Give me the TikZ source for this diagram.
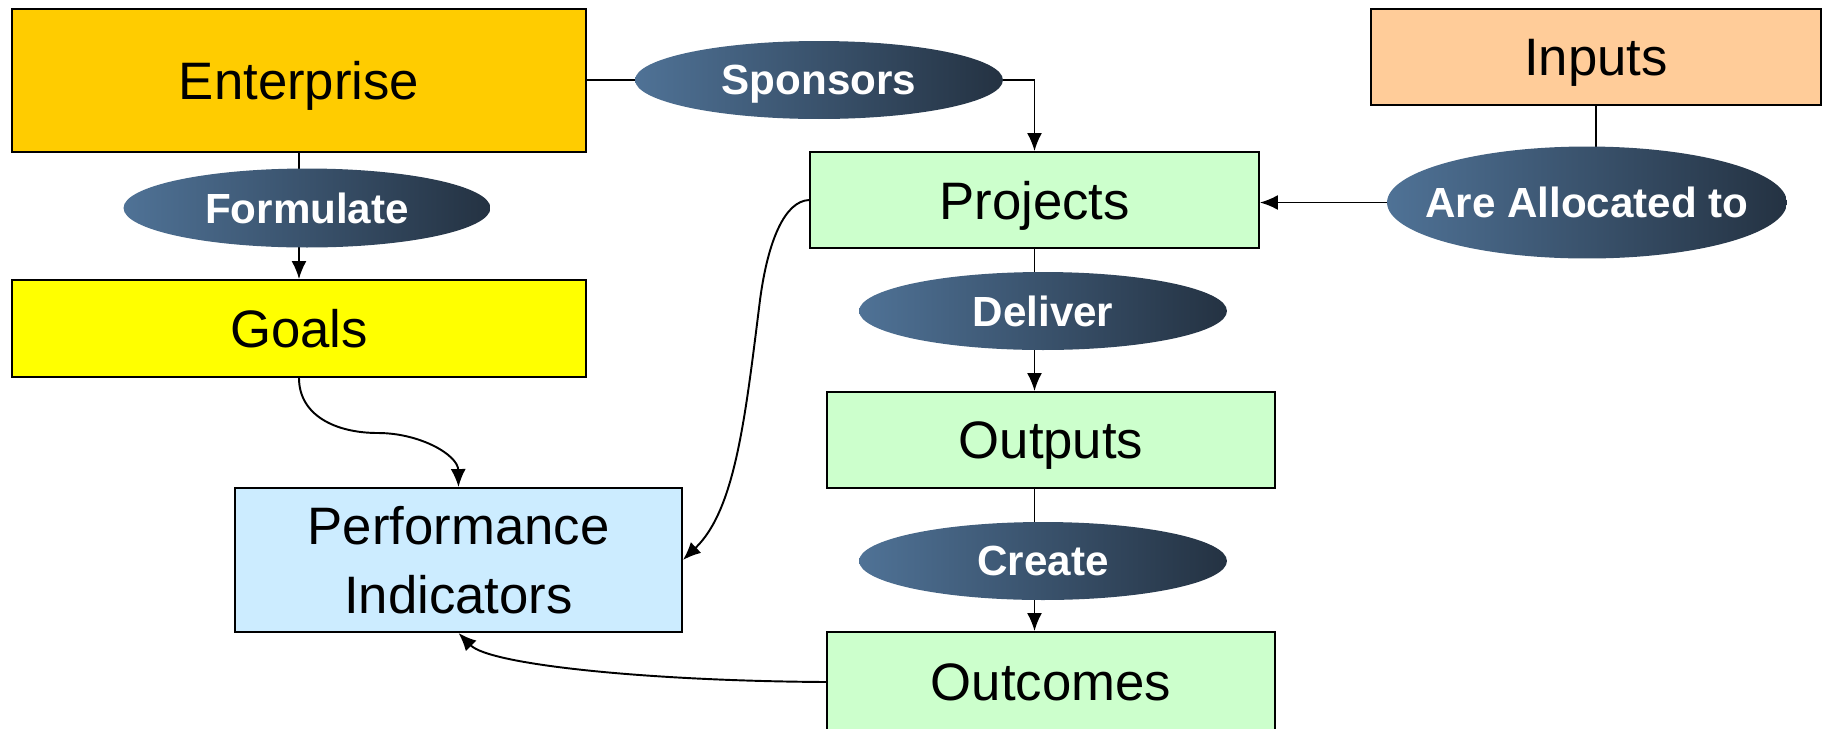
\documentclass[tikz,border=0pt]{standalone}
\usepackage{fontspec}
\setmainfont{Liberation Sans}
\usetikzlibrary{positioning,shapes,arrows.meta}

\definecolor{entyellow}{HTML}{FFCC00}
\definecolor{goalyellow}{HTML}{FFFF00}
\definecolor{inpeach}{HTML}{FFCC99}
\definecolor{projgreen}{HTML}{CCFFCC}
\definecolor{piblue}{HTML}{CCECFF}
\definecolor{verbleft}{RGB}{79,114,150}
\definecolor{verbright}{RGB}{36,50,66}

\begin{document}
\begin{tikzpicture}[x=0.02cm,y=-0.02cm]
\tikzstyle{every node}+=[inner sep=0pt]
\tikzstyle{box}=[draw=black, line width=1.1pt, align=center, text depth=0pt, font=\fontsize{30}{39}\selectfont]
\tikzstyle{verb}=[ellipse, left color=verbleft, right color=verbright, draw=none]
\tikzstyle{verbtext}=[text=white, text depth=0pt, font=\fontsize{24}{28}\selectfont\bfseries]
\tikzstyle{link}=[black, line width=1.1pt]
\tikzstyle{arr}=[link, -{Latex[length=3.6mm,width=3mm]}]

\useasboundingbox (0,0) rectangle (1823,728);

% boxes
\node[box, fill=entyellow, minimum width=11.5cm, minimum height=2.86cm] (enterprise) at (299,80.5) {Enterprise};
\node[box, fill=goalyellow, minimum width=11.5cm, minimum height=1.94cm] (goals) at (299,328.5) {Goals};
\node[box, fill=inpeach, minimum width=9cm, minimum height=1.92cm] (inputs) at (1596,57) {Inputs};
\node[box, fill=projgreen, minimum width=8.98cm, minimum height=1.92cm] (projects) at (1034.5,200) {Projects};
\node[box, fill=projgreen, minimum width=8.96cm, minimum height=1.92cm] (outputs) at (1051,440) {Outputs};
\node[box, fill=projgreen, minimum width=8.96cm, minimum height=2cm] (outcomes) at (1051,682) {Outcomes};
\node[box, fill=piblue, minimum width=8.94cm, minimum height=2.88cm] (pi) at (458.5,560) {Performance\\Indicators};

% straight links, drawn before the ellipses so these sit on top
\draw[arr] (enterprise.south) -- (goals.north);
\draw[arr] (projects.south) -- (projects.south |- outputs.north);
\draw[arr] (projects.south |- outputs.south) -- (projects.south |- outcomes.north);
\draw[link] (inputs.south) -- ++(0,60);

% ellipses
\node[verb, minimum width=7.36cm, minimum height=1.56cm, label={[verbtext]center:Sponsors}] (sponsors) at (819,80) {};
\node[verb, minimum width=7.34cm, minimum height=1.58cm, label={[verbtext]center:Formulate}] (formulate) at (307,208) {};
\node[verb, minimum width=8cm, minimum height=2.24cm, label={[verbtext]center:Are Allocated to}] (allocated) at (1587,202.5) {};
\node[verb, minimum width=7.36cm, minimum height=1.56cm, label={[verbtext]center:Deliver}] (deliver) at (1043,311) {};
\node[verb, minimum width=7.36cm, minimum height=1.56cm, label={[verbtext]center:Create}] (create) at (1043,561) {};

\draw[link] (enterprise.east |- sponsors.west) -- (sponsors.west);
\draw[arr] (sponsors.east) -| (projects.north);
\draw[arr] (allocated.west) -- (allocated.west -| projects.east);

% curved links into the indicators
\draw[arr] (goals.south) .. controls (299,415) and (335,433) .. (378,433)
  .. controls (420,433) and (458,455) .. (pi.north);
\draw[arr] (projects.west) .. controls (785,201) and (768,240) .. (760,300)
  .. controls (745,420) and (735,510) .. (pi.east);
\draw[arr] (outcomes.west) .. controls (650,681) and (490,665) .. (pi.south);
\end{tikzpicture}
\end{document}
